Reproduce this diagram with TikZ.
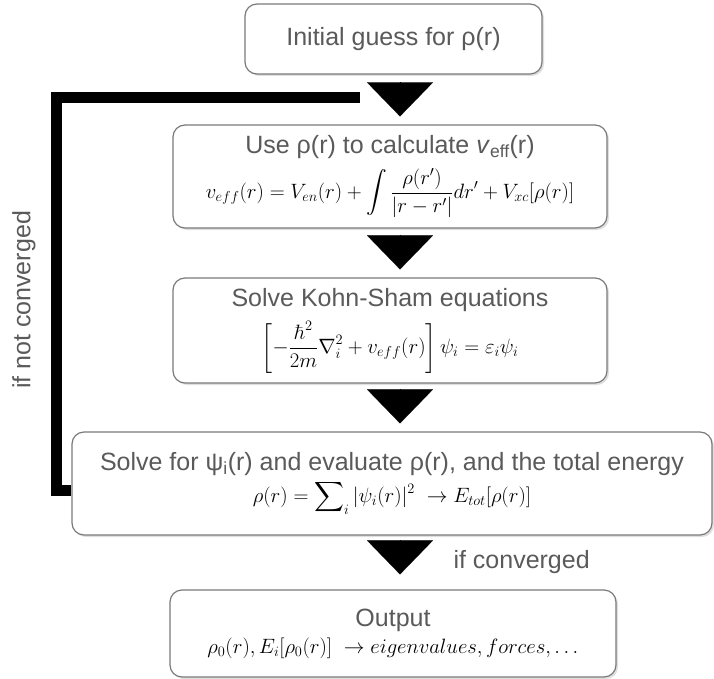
\documentclass[tikz,border=0pt]{standalone}
\usepackage{amsmath}
\usepackage[no-math]{fontspec}
\setmainfont{Liberation Sans}
\usepackage{tikz}
\usetikzlibrary{arrows.meta, positioning, shadows, calc}
\definecolor{boxline}{HTML}{7A7A7A}
\definecolor{boxtext}{HTML}{5A5A5A}
\newcommand\eqfont{\fontsize{22}{26}\selectfont\color{black}}

\begin{document}
\begin{tikzpicture}[x=1pt, y=-1pt,
  stepbox/.style={draw=boxline, line width=1.2pt, rounded corners=12pt, fill=white,
    align=center, text=boxtext, font=\fontsize{25}{30}\selectfont, inner sep=0pt,
    drop shadow={opacity=0.25, shadow xshift=2pt, shadow yshift=-2pt}},
  flowtip/.style={line width=0.1pt, -{Triangle[width=66pt, length=34pt]}, shorten <=9pt},
  loopline/.style={line width=11pt},
  sidenote/.style={text=boxtext, font=\fontsize{25}{30}\selectfont}]
  \useasboundingbox (0,0) rectangle (714,679);

  % Feedback loop
  \coordinate (axis) at (400,0);
  \coordinate (loopend) at (360,98);
  \coordinate (loopcorner) at (56,98);

  % Steps of the cycle
  \node[stepbox, minimum width=297pt, minimum height=70pt] (init) at (393.5,39)
    {Initial guess for ρ(r)};
  \node[stepbox, minimum width=434pt, minimum height=103pt] (usev) at (390,176.5)
    {Use ρ(r) to calculate \textit{v}\textsubscript{eff}(r)\\[9pt]
     {\eqfont $\displaystyle v_{eff}(r) = V_{en}(r) + \int \frac{\rho(r')}{|r-r'|}dr' + V_{xc}[\rho(r)]$}};
  \node[stepbox, minimum width=434pt, minimum height=105pt] (kohn) at (390,330.5)
    {Solve Kohn-Sham equations\\[9pt]
     {\eqfont $\displaystyle \left[-\frac{\hbar^2}{2m}\nabla_i^2 + v_{eff}(r)\right]\psi_i = \varepsilon_i\psi_i$}};
  \node[stepbox, minimum width=640pt, minimum height=103pt] (solve) at (392,483.5)
    {Solve for ψ\textsubscript{i}(r) and evaluate ρ(r), and the total energy\\[2pt]
     {\eqfont $\displaystyle \rho(r) = \sum\nolimits_i |\psi_i(r)|^2 \ \rightarrow E_{tot}[\rho(r)]$}};
  \node[stepbox, minimum width=446pt, minimum height=87pt] (output) at (393,633.5)
    {Output\\[-3pt]
     {\eqfont $\rho_0(r), E_i[\rho_0(r)] \ \rightarrow eigenvalues, forces, \ldots$}};

  % Arrows between the steps
  \draw[flowtip, shorten >=8pt] (init.south -| axis) -- (usev.north -| axis);
  \draw[flowtip, shorten >=8pt] (usev.south -| axis) -- (kohn.north -| axis);
  \draw[flowtip, shorten >=8pt] (kohn.south -| axis) -- (solve.north -| axis);
  \draw[flowtip, shorten >=15pt] (solve.south -| axis) -- (output.north -| axis);

  \draw[loopline] ($(solve.west)+(0,6.5)$) -| (loopcorner) -- (loopend);

  % Labels
  \node[sidenote, rotate=90] (notconv) at (24,300) {if not converged};
  \node[sidenote, anchor=west] (conv) at (450,562) {if converged};
\end{tikzpicture}
\end{document}
